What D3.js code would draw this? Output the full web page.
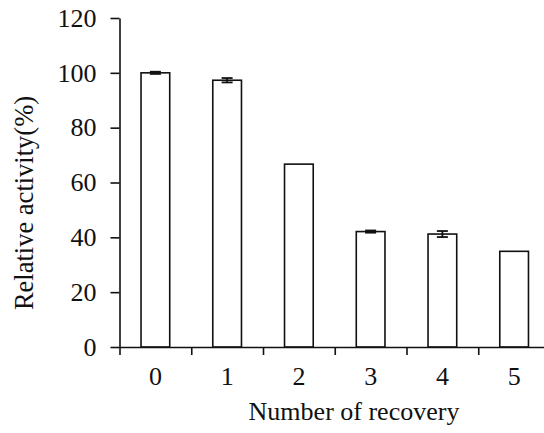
<!DOCTYPE html>
<html>
<head>
<meta charset="utf-8">
<script src="https://cdn.jsdelivr.net/npm/d3@7"></script>
<style>
  html, body { margin: 0; padding: 0; background: #fff; }
  svg { display: block; }
  text { font-family: "Liberation Serif", "Times New Roman", serif; fill: #111; }
</style>
</head>
<body>
<svg id="chart" width="544" height="433"></svg>
<script>
// Recovery cycles and remaining activity
const categories = ["0", "1", "2", "3", "4", "5"];
const activity = [100, 97.3, 66.7, 42.1, 41.2, 34.9];
const errors = [0.4, 0.8, 0, 0.4, 1.1, 0];
const yTicks = [0, 20, 40, 60, 80, 100, 120];

const serif = "Liberation Serif, Times New Roman, serif";
const svg = d3.select("#chart");
const x0 = 119.5, xStep = 71.75;
const xEnd = x0 + xStep * categories.length;
const yBottom = 347, yTop = 18;

const x = d3.scaleBand()
  .domain(categories)
  .range([x0, xEnd])
  .paddingInner(0.6)
  .paddingOuter(0.3);

const xEdge = d3.scaleLinear().domain([0, categories.length]).range([x0, xEnd]);

const y = d3.scaleLinear().domain([0, 120]).range([yBottom, yTop]);

// Bars
svg.append("g").selectAll("rect")
  .data(categories)
  .join("rect")
  .attr("x", d => x(d))
  .attr("y", (d, i) => y(activity[i]))
  .attr("width", x.bandwidth())
  .attr("height", (d, i) => y(0) - y(activity[i]))
  .attr("fill", "#fff")
  .attr("stroke", "#111")
  .attr("stroke-width", 1.6);

// Error bars
const eb = svg.append("g").attr("stroke", "#111").attr("stroke-width", 1.8);
categories.forEach((c, i) => {
  if (!errors[i]) return;
  const cx = x(c) + x.bandwidth() / 2;
  const hi = y(activity[i] + errors[i]), lo = y(activity[i] - errors[i]);
  eb.append("line").attr("x1", cx).attr("x2", cx).attr("y1", hi).attr("y2", lo);
  eb.append("line").attr("x1", cx - 5.5).attr("x2", cx + 5.5).attr("y1", hi).attr("y2", hi);
  eb.append("line").attr("x1", cx - 5.5).attr("x2", cx + 5.5).attr("y1", lo).attr("y2", lo);
});

// Y axis
const yAxis = svg.append("g")
  .attr("transform", `translate(${x0},0)`)
  .call(d3.axisLeft(y).tickValues(yTicks).tickSize(9).tickSizeOuter(0).tickPadding(14))
  .attr("font-family", serif)
  .attr("font-size", 26);
yAxis.selectAll("path, line").attr("stroke", "#111").attr("stroke-width", 1.6);
yAxis.selectAll("text").attr("fill", "#111");

// X axis: tick marks at category boundaries
const xAxis = svg.append("g")
  .attr("transform", `translate(0,${yBottom})`)
  .call(d3.axisBottom(xEdge).tickValues(d3.range(categories.length + 1)).tickSize(8).tickSizeOuter(0).tickFormat(""));
xAxis.selectAll("path, line").attr("stroke", "#111").attr("stroke-width", 1.6);

// X labels centred in each band
const xLab = svg.append("g")
  .attr("transform", `translate(0,${yBottom})`)
  .call(d3.axisBottom(x).tickSize(0).tickPadding(20))
  .attr("font-family", serif)
  .attr("font-size", 26);
xLab.select(".domain").remove();
xLab.selectAll("text").attr("fill", "#111");

// Axis titles
svg.append("text")
  .attr("x", 354).attr("y", 420)
  .attr("text-anchor", "middle")
  .attr("font-family", serif)
  .attr("font-size", 26)
  .text("Number of recovery");

svg.append("text")
  .attr("transform", "translate(33,203) rotate(-90)")
  .attr("text-anchor", "middle")
  .attr("font-family", serif)
  .attr("font-size", 26.5)
  .text("Relative activity(%)");
</script>
</body>
</html>
